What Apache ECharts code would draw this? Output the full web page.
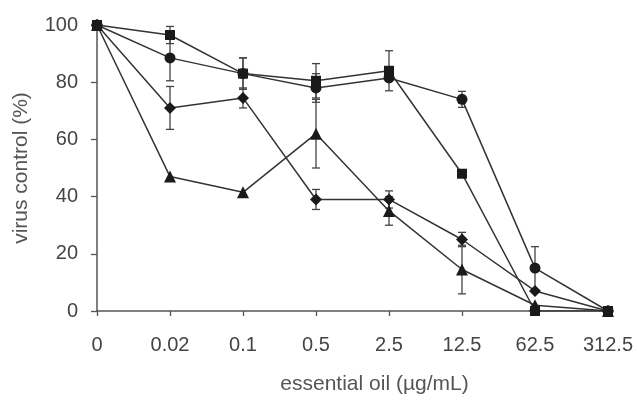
<!DOCTYPE html>
<html>
<head>
<meta charset="utf-8">
<script src="https://cdn.jsdelivr.net/npm/echarts@6/dist/echarts.min.js"></script>
<style>
  html, body { margin: 0; padding: 0; background: #fff; }
  #chart { width: 637px; height: 403px; }
  #edge { position: absolute; left: 6px; top: 0; width: 2px; height: 403px; background: #f29090; }
</style>
</head>
<body>
<div id="edge"></div>
<div id="chart"></div>
<script>
// Concentrations of essential oil (µg/mL)
const categories = ['0', '0.02', '0.1', '0.5', '2.5', '12.5', '62.5', '312.5'];

// Virus control (%) per series
const squareVals   = [100, 96.5, 83, 80.5, 84, 48, 0, 0];
const circleVals   = [100, 88.5, 83, 78, 81.5, 74, 15, 0];
const diamondVals  = [100, 71, 74.5, 39, 39, 25, 7, 0];
const triangleVals = [100, 47, 41.5, 62, 35, 14.5, 2, 0];

// Standard deviations (0 = no bar drawn)
const squareErr   = [0, 3, 5.5, 6, 7, 0, 0, 0];
const circleErr   = [0, 8, 5.5, 5, 0, 2.8, 7.5, 0];
const diamondErr  = [0, 7.5, 3.5, 3.5, 3, 2.5, 0, 0];
const triangleErr = [0, 0, 0, 12, 5, 8.5, 0, 0];

const yTicks = [0, 20, 40, 60, 80, 100];

const font = 'Liberation Sans, Arial, sans-serif';
const ink = '#1a1a1a';

function errData(vals, errs) {
  const out = [];
  vals.forEach((v, i) => {
    if (errs[i] > 0) out.push([i, v - errs[i], v + errs[i]]);
  });
  return out;
}

function errSeries(vals, errs) {
  return {
    type: 'custom',
    data: errData(vals, errs),
    z: 1,
    silent: true,
    renderItem: function (params, api) {
      const x = api.value(0);
      const lo = api.coord([x, api.value(1)]);
      const hi = api.coord([x, api.value(2)]);
      const cap = 4;
      const style = { stroke: '#444', lineWidth: 1.3 };
      return {
        type: 'group',
        children: [
          { type: 'line', shape: { x1: lo[0], y1: lo[1], x2: hi[0], y2: hi[1] }, style },
          { type: 'line', shape: { x1: lo[0] - cap, y1: lo[1], x2: lo[0] + cap, y2: lo[1] }, style },
          { type: 'line', shape: { x1: hi[0] - cap, y1: hi[1], x2: hi[0] + cap, y2: hi[1] }, style }
        ]
      };
    }
  };
}

function lineSeries(vals, symbol, size) {
  return {
    type: 'line',
    data: vals,
    symbol: symbol,
    symbolSize: size,
    showAllSymbol: true,
    z: 3,
    lineStyle: { color: '#333', width: 1.5 },
    itemStyle: { color: ink, borderWidth: 0 },
    animation: false
  };
}

const chart = echarts.init(document.getElementById('chart'), null, { renderer: 'canvas' });
chart.setOption({
  animation: false,
  backgroundColor: '#fff',
  grid: { left: 97, right: 29, top: 25, bottom: 92 },
  xAxis: {
    type: 'category',
    data: categories,
    boundaryGap: false,
    name: 'essential oil (µg/mL)',
    nameLocation: 'middle',
    nameGap: 63,
    nameTextStyle: { fontFamily: font, fontSize: 21, color: '#555', padding: [0, 0, 0, 44] },
    axisLine: { lineStyle: { color: '#555', width: 1.5 } },
    axisTick: { show: true, length: 5, alignWithLabel: true, lineStyle: { color: '#555', width: 1.3 } },
    axisLabel: { fontFamily: font, fontSize: 20, color: '#444', margin: 24 },
    splitLine: { show: false }
  },
  yAxis: {
    type: 'value',
    min: yTicks[0],
    max: yTicks[yTicks.length - 1],
    interval: 20,
    name: 'virus control (%)',
    nameLocation: 'middle',
    nameGap: 65,
    nameRotate: 90,
    nameTextStyle: { fontFamily: font, fontSize: 21, color: '#555' },
    axisLine: { show: true, lineStyle: { color: '#555', width: 1.5 } },
    axisTick: { show: true, length: 6, lineStyle: { color: '#555', width: 1.3 } },
    axisLabel: { fontFamily: font, fontSize: 20, color: '#444', margin: 19 },
    splitLine: { show: false }
  },
  series: [
    errSeries(squareVals, squareErr),
    errSeries(circleVals, circleErr),
    errSeries(diamondVals, diamondErr),
    errSeries(triangleVals, triangleErr),
    lineSeries(squareVals, 'rect', 10),
    lineSeries(circleVals, 'circle', 11),
    lineSeries(diamondVals, 'diamond', 12),
    lineSeries(triangleVals, 'triangle', 12)
  ]
});
</script>
</body>
</html>
